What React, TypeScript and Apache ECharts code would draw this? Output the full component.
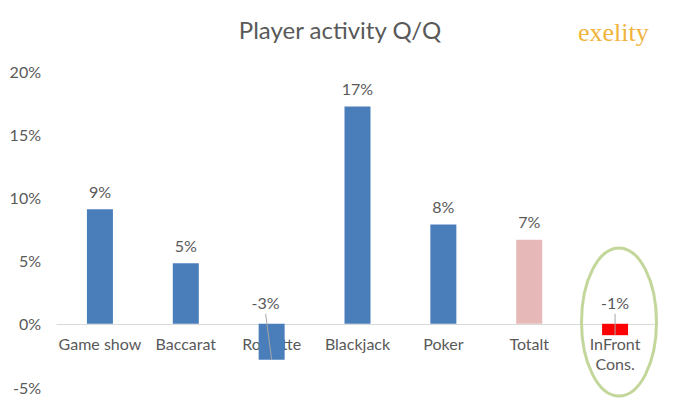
import React, { useEffect, useRef } from 'react';
import * as echarts from 'echarts';

const categories = ['Game show', 'Baccarat', 'Roulette', 'Blackjack', 'Poker', 'Totalt', 'InFront\nCons.'];
const activity = [9.07, 4.8, -2.85, 17.2, 7.86, 6.65, -0.9];
const labels = ['9%', '5%', '-3%', '17%', '8%', '7%', '-1%'];
const yTicks = { min: -5, max: 20, interval: 5 };

const BLUE = '#4a7ebb';
const PINK = '#e6b9b8';
const RED = '#ff0000';
const TEXT = '#595959';
const FONT = 'Lato, "Open Sans", sans-serif';

const W = 680;
const H = 408;
const GRID = { left: 57, right: 22, top: 71, bottom: 21 };

// per-bar colour, Totalt and InFront are highlighted
const barColor = (i: number) => (i === 5 ? PINK : i === 6 ? RED : BLUE);
// horizontal nudge of the moved labels (px)
const labelShift: Record<number, number> = { 2: -6, 6: 0 };

const App: React.FC = () => {
  const chartRef = useRef<HTMLDivElement>(null);

  useEffect(() => {
    if (!chartRef.current) return;
    document.body.style.margin = '0';
    const chart = echarts.init(chartRef.current, undefined, { renderer: 'svg' });

    const barData = activity.map((v, i) => {
      const item: any = { value: v, itemStyle: { color: barColor(i) } };
      if (v < 0) {
        item.label = { position: 'top', distance: 13, offset: [labelShift[i] || 0, 0] };
      }
      return item;
    });

    const leaderData = activity
      .map((v, i) => [i, v])
      .filter((d) => d[1] < 0);

    // the category axis sits on the zero line, labels included
    const plotH = H - GRID.top - GRID.bottom;
    const zeroOffset = -(plotH * (0 - yTicks.min)) / (yTicks.max - yTicks.min);

    chart.setOption({
      animation: false,
      title: {
        text: 'Player activity Q/Q',
        left: 'center',
        top: 12,
        textStyle: { fontFamily: FONT, fontSize: 24, fontWeight: 'normal', color: TEXT },
      },
      grid: GRID,
      xAxis: {
        type: 'category',
        data: categories,
        offset: zeroOffset,
        axisLine: { onZero: false, lineStyle: { color: '#d9d9d9', width: 1 } },
        axisTick: { show: false },
        axisLabel: {
          interval: 0,
          margin: 10,
          color: TEXT,
          fontFamily: FONT,
          fontSize: 16,
          lineHeight: 20,
        },
      },
      yAxis: {
        type: 'value',
        min: yTicks.min,
        max: yTicks.max,
        interval: yTicks.interval,
        splitLine: { show: false },
        axisLine: { show: false },
        axisTick: { show: false },
        axisLabel: {
          formatter: '{value}%',
          margin: 16,
          color: TEXT,
          fontFamily: FONT,
          fontSize: 16,
        },
      },
      series: [
        {
          type: 'bar',
          data: barData,
          barWidth: 26,
          label: {
            show: true,
            position: 'top',
            distance: 10,
            color: TEXT,
            fontFamily: FONT,
            fontSize: 16,
            formatter: (p: any) => labels[p.dataIndex],
          },
        },
        {
          type: 'custom',
          data: leaderData,
          z: 5,
          silent: true,
          renderItem: (params: any, api: any) => {
            const i = api.value(0);
            const p0 = api.coord([i, 0]);
            const p1 = api.coord([i, api.value(1)]);
            const dx = labelShift[i] || 0;
            return {
              type: 'line',
              shape: { x1: p0[0] + dx, y1: p0[1] - 10, x2: p1[0], y2: p1[1] },
              style: { stroke: '#a6a6a6', lineWidth: 1 },
            };
          },
        },
      ],
      graphic: [
        {
          type: 'text',
          left: 578,
          top: 19,
          style: {
            text: 'exelity',
            font: '26px "Liberation Serif", serif',
            fill: '#f0b43c',
          },
        },
        {
          type: 'ellipse',
          shape: { cx: 619, cy: 322, rx: 37.5, ry: 74 },
          style: { fill: 'none', stroke: '#c4d79b', lineWidth: 3 },
          z: 10,
        },
      ],
    });

    return () => chart.dispose();
  }, []);

  return <div ref={chartRef} style={{ width: W, height: H }} />;
};

export default App;
